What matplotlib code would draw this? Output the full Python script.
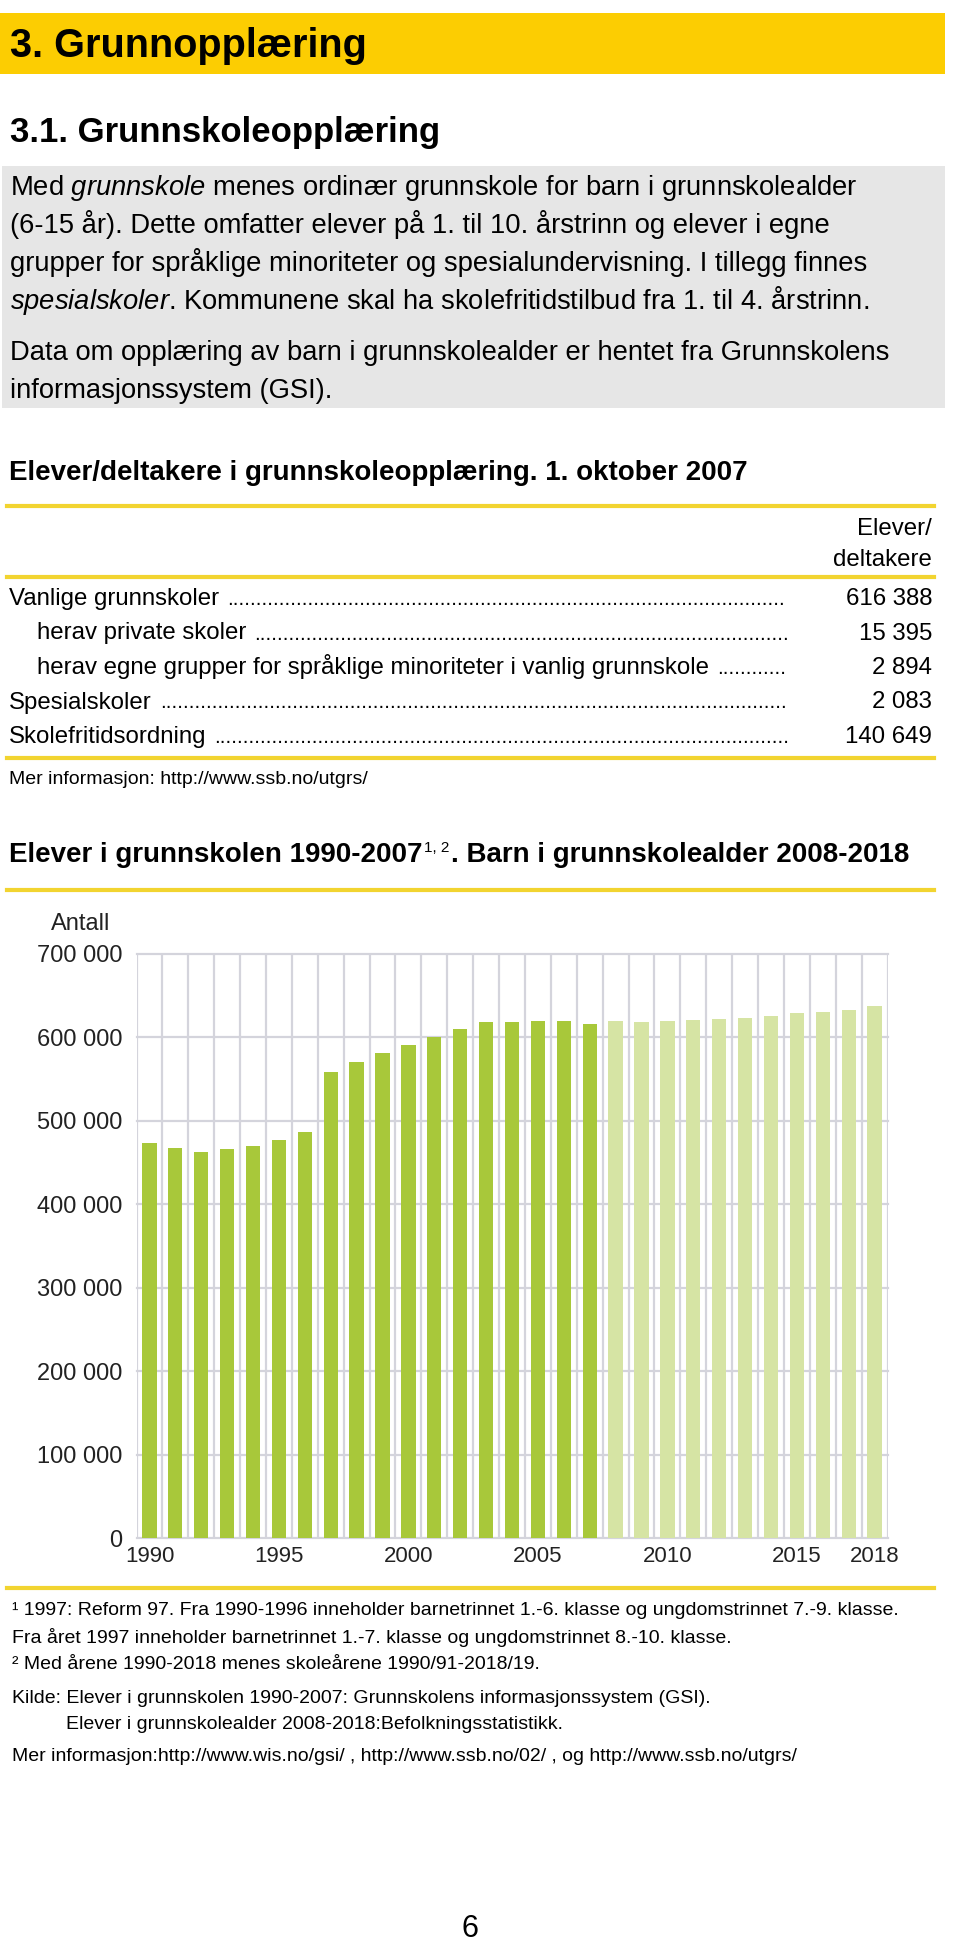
import matplotlib.pyplot as plt
import numpy as np
from matplotlib.patches import Rectangle
from matplotlib.lines import Line2D

plt.rcParams['font.family'] = ['Liberation Sans', 'DejaVu Sans']
plt.rcParams['mathtext.fontset'] = 'custom'
plt.rcParams['mathtext.rm'] = 'Liberation Sans'
plt.rcParams['mathtext.it'] = 'Liberation Sans:italic'
plt.rcParams['mathtext.bf'] = 'Liberation Sans:bold'

# data
years = list(range(1990, 2019))
elever = [473000, 467000, 463000, 466000, 470000, 477000, 487000, 559000, 570000,
          581000, 591000, 600500, 610500, 618000, 619000, 620000, 619100, 616388]
barn = [619100, 618300, 619900, 621100, 621500, 622700, 625500, 628700, 630700,
        632700, 637100]
year_ticks = [1990, 1995, 2000, 2005, 2010, 2015, 2018]
y_ticks = [0, 100000, 200000, 300000, 400000, 500000, 600000, 700000]

table_labels = ["Vanlige grunnskoler", "herav private skoler",
                "herav egne grupper for språklige minoriteter i vanlig grunnskole",
                "Spesialskoler", "Skolefritidsordning"]
table_indent = [False, True, True, False, False]
table_values = [616388, 15395, 2894, 2083, 140649]

body_lines = ["Med $\\it{grunnskole}$ menes ordinær grunnskole for barn i grunnskolealder",
              "(6-15 år). Dette omfatter elever på 1. til 10. årstrinn og elever i egne",
              "grupper for språklige minoriteter og spesialundervisning. I tillegg finnes",
              "$\\it{spesialskoler}$. Kommunene skal ha skolefritidstilbud fra 1. til 4. årstrinn.",
              "Data om opplæring av barn i grunnskolealder er hentet fra Grunnskolens",
              "informasjonssystem (GSI)."]

notes = ["¹ 1997: Reform 97. Fra 1990-1996 inneholder barnetrinnet 1.-6. klasse og ungdomstrinnet 7.-9. klasse.",
         "Fra året 1997 inneholder barnetrinnet 1.-7. klasse og ungdomstrinnet 8.-10. klasse.",
         "² Med årene 1990-2018 menes skoleårene 1990/91-2018/19.",
         "Kilde: Elever i grunnskolen 1990-2007: Grunnskolens informasjonssystem (GSI).",
         "Elever i grunnskolealder 2008-2018:Befolkningsstatistikk.",
         "Mer informasjon:http://www.wis.no/gsi/ , http://www.ssb.no/02/ , og http://www.ssb.no/utgrs/"]

W, H = 960, 1944
YELLOW = '#fccd02'
LINE_YELLOW = '#f2d430'
GREEN = '#a8c83a'
LIGHT_GREEN = '#d6e4a4'
GRID = '#d4d4dc'

fig = plt.figure(figsize=(9.6, 19.44), dpi=100)
renderer = fig.canvas.get_renderer()


def fx(x):
    return x / W


def fy(y):
    return 1 - y / H


def put(x, y, s, **kw):
    kw.setdefault('va', 'baseline')
    return fig.text(fx(x), fy(y), s, **kw)


def hline(y, x0=7, x1=934):
    fig.add_artist(Line2D([fx(x0), fx(x1)], [fy(y), fy(y)], color=LINE_YELLOW, lw=3))


# header band
fig.add_artist(Rectangle((0, fy(74)), fx(945), 61 / H, color=YELLOW, lw=0))
put(10, 57, "3. Grunnopplæring", fontsize=28.5, fontweight='bold')
put(10, 142, "3.1. Grunnskoleopplæring", fontsize=25, fontweight='bold')

# grey info box
fig.add_artist(Rectangle((fx(2), fy(408)), fx(943), 242 / H, color='#e6e6e6', lw=0))
for line, y in zip(body_lines, [195, 233, 271, 309, 360, 398]):
    put(10, y, line, fontsize=19.7)

# table
put(9, 480, "Elever/deltakere i grunnskoleopplæring. 1. oktober 2007", fontsize=20, fontweight='bold')
hline(506)
put(932, 535, "Elever/", fontsize=17.3, ha='right')
put(932, 566, "deltakere", fontsize=17.3, ha='right')
hline(577)

dot = put(0, 0, "." * 11, fontsize=15)
d11 = dot.get_window_extent(renderer).width
dot.set_text(".")
dot_w = (d11 - dot.get_window_extent(renderer).width) / 10
dot.remove()

for i, (lab, ind, val) in enumerate(zip(table_labels, table_indent, table_values)):
    y = 605 + 34.5 * i
    t = put(37 if ind else 9, y, lab, fontsize=17.3)
    x_end = t.get_window_extent(renderer).x1 + 8
    n = int((790 - x_end) / dot_w)
    put(x_end, y, "." * n, fontsize=15)
    put(932, y, f"{val:,}".replace(",", " "), fontsize=17.3, ha='right')
hline(758)
put(9, 784, "Mer informasjon: http://www.ssb.no/utgrs/", fontsize=14)

# chart title with superscript
t = put(9, 862, "Elever i grunnskolen 1990-2007", fontsize=20, fontweight='bold')
xs = t.get_window_extent(renderer).x1 + 2
t = put(xs, 852, "1, 2", fontsize=11)
xs = t.get_window_extent(renderer).x1 + 1
put(xs, 862, ". Barn i grunnskolealder 2008-2018", fontsize=20, fontweight='bold')
hline(890)
put(81, 930, "Antall", fontsize=17, ha='center', color='#222222')

ax = fig.add_axes([fx(136.5), fy(1538), (887.5 - 136.5) / W, (1538 - 954) / H])
x = np.arange(len(years))
ax.bar(x[:len(elever)], elever, width=0.55, color=GREEN, zorder=2)
ax.bar(x[len(elever):], barn, width=0.55, color=LIGHT_GREEN, zorder=2)
ax.set_xlim(-0.5, len(years) - 0.5)
ax.set_ylim(0, 700000)
ax.set_yticks(y_ticks)
ax.set_yticklabels([f"{v:,}".replace(",", " ") for v in y_ticks])
ax.set_xticks([years.index(y) for y in year_ticks])
ax.set_xticklabels([str(y) for y in year_ticks])
ax.set_xticks(np.arange(-0.5, len(years), 1), minor=True)
ax.set_axisbelow(True)
ax.grid(axis='y', which='major', color=GRID, lw=1.6)
ax.grid(axis='x', which='minor', color=GRID, lw=1.6)
ax.grid(axis='x', which='major', visible=False)
for gl in ax.get_xgridlines() + ax.get_ygridlines():
    gl.set_clip_on(False)
ax.tick_params(axis='both', which='both', length=0, colors='#222222')
ax.tick_params(axis='y', pad=10, labelsize=17)
ax.tick_params(axis='x', pad=6, labelsize=16)
for s in ax.spines.values():
    s.set_visible(False)

hline(1588)

# footnotes
for i, (note, y) in enumerate(zip(notes, [1615, 1643, 1669, 1703, 1729, 1761])):
    put(66 if i == 4 else 12, y, note, fontsize=14)

put(470, 1937, "6", fontsize=22, ha='center')

fig.savefig('out.png', dpi=100)
